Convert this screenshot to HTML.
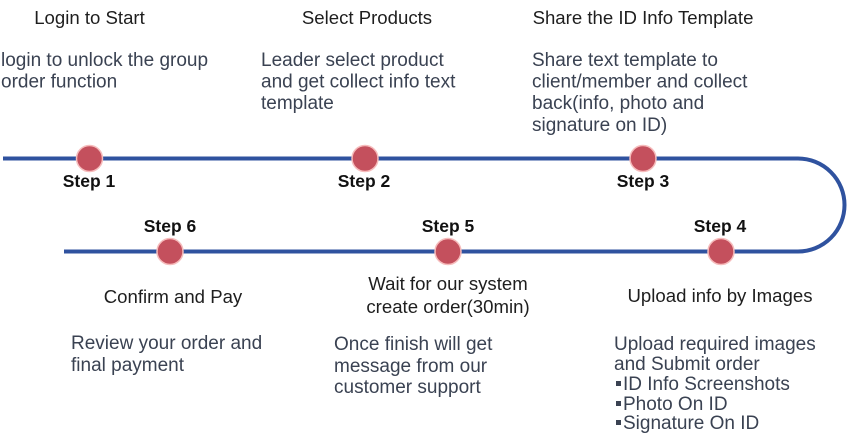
<!DOCTYPE html>
<html>
<head>
<meta charset="utf-8">
<style>
  html,body{margin:0;padding:0;background:#fff;}
  body{width:847px;height:438px;overflow:hidden;}
  svg{display:block;}
  .t{font-family:"Liberation Sans",sans-serif;font-size:18.6px;fill:#1e1e1e;}
  .d{font-family:"Liberation Sans",sans-serif;font-size:19px;fill:#3a4252;}
  .s{font-family:"Liberation Sans",sans-serif;font-size:17.5px;font-weight:bold;fill:#111;}
</style>
</head>
<body>
<svg width="847" height="438" viewBox="0 0 847 438" xmlns="http://www.w3.org/2000/svg">
  <path d="M3,158.5 H798 A46.5,46.5 0 0 1 798,251.5 H64" fill="none" stroke="#2f529f" stroke-width="4"/>

  <g fill="#c4505d" stroke="#f6bcbc" stroke-width="1.5">
    <circle cx="89.5" cy="158.5" r="13"/>
    <circle cx="365" cy="158.5" r="13"/>
    <circle cx="643" cy="158.5" r="13"/>
    <circle cx="721" cy="251.5" r="13"/>
    <circle cx="448" cy="251.5" r="13"/>
    <circle cx="170" cy="251.5" r="13"/>
  </g>

  <text class="s" x="89" y="187" text-anchor="middle">Step 1</text>
  <text class="s" x="364" y="187" text-anchor="middle">Step 2</text>
  <text class="s" x="643" y="187" text-anchor="middle">Step 3</text>
  <text class="s" x="720" y="232" text-anchor="middle">Step 4</text>
  <text class="s" x="448" y="232" text-anchor="middle">Step 5</text>
  <text class="s" x="170" y="232" text-anchor="middle">Step 6</text>

  <text class="t" x="89.5" y="24" text-anchor="middle">Login to Start</text>
  <text class="t" x="367" y="24" text-anchor="middle">Select Products</text>
  <text class="t" x="643" y="24" text-anchor="middle">Share the ID Info Template</text>

  <text class="d" x="1" y="66">login to unlock the group</text>
  <text class="d" x="1" y="87.5">order function</text>

  <text class="d" x="261" y="66">Leader select product</text>
  <text class="d" x="261" y="87.5">and get collect info text</text>
  <text class="d" x="261" y="109">template</text>

  <text class="d" x="532" y="66">Share text template to</text>
  <text class="d" x="532" y="87.5">client/member and collect</text>
  <text class="d" x="532" y="109">back(info, photo and</text>
  <text class="d" x="532" y="131">signature on ID)</text>

  <text class="t" x="173" y="303" text-anchor="middle">Confirm and Pay</text>
  <text class="d" x="71" y="349">Review your order and</text>
  <text class="d" x="71" y="371">final payment</text>

  <text class="t" x="448" y="290" text-anchor="middle">Wait for our system</text>
  <text class="t" x="448" y="313" text-anchor="middle">create order(30min)</text>
  <text class="d" x="334" y="350">Once finish will get</text>
  <text class="d" x="334" y="372">message from our</text>
  <text class="d" x="334" y="393">customer support</text>

  <text class="t" x="720" y="302" text-anchor="middle">Upload info by Images</text>
  <text class="d" x="614" y="350">Upload required images</text>
  <text class="d" x="614" y="370">and Submit order</text>
  <g fill="#3a4252">
    <rect x="616" y="381" width="5" height="5"/>
    <rect x="616" y="401" width="5" height="5"/>
    <rect x="616" y="420" width="5" height="5"/>
  </g>
  <text class="d" x="623" y="390">ID Info Screenshots</text>
  <text class="d" x="623" y="410">Photo On ID</text>
  <text class="d" x="623" y="429">Signature On ID</text>
</svg>
</body>
</html>
